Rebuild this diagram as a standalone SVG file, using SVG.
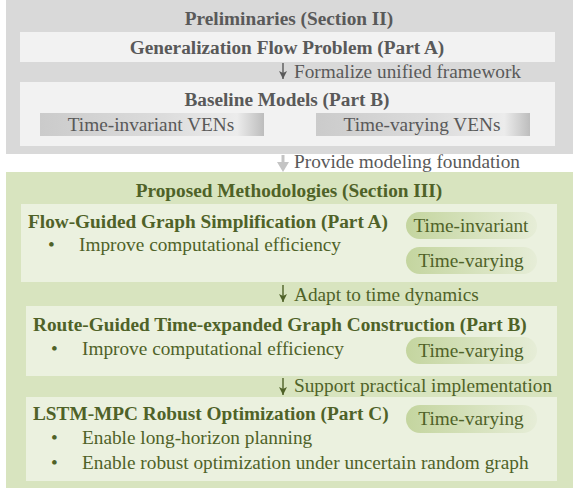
<svg xmlns="http://www.w3.org/2000/svg" width="575" height="491" viewBox="0 0 575 491">
  <defs>
    <style>
      .t { font-family: Liberation Serif, DejaVu Serif, serif; font-size: 19.3px; }
      .b { font-weight: bold; }
      .g { fill: #595959; }
      .v { fill: #4f6228; }
      .mid { text-anchor: middle; }
      .panel-g { fill: #d9d9d9; }
      .box-g { fill: #f2f2f2; }
      .panel-v { fill: #d8e4bf; }
      .box-v { fill: #ebf1df; }
      .pill { fill: url(#pillGrad); }
      .ven { fill: url(#venGrad); }
    </style>
    <linearGradient id="venGrad" x1="0" y1="0" x2="1" y2="0">
      <stop offset="0" stop-color="#cbcbcb"/>
      <stop offset="0.55" stop-color="#dcdcdc"/>
      <stop offset="0.88" stop-color="#ececec"/>
      <stop offset="1" stop-color="#bdbdbd"/>
    </linearGradient>
    <linearGradient id="pillGrad" x1="0" y1="0" x2="1" y2="0">
      <stop offset="0" stop-color="#c4d59f"/>
      <stop offset="1" stop-color="#e6edd7"/>
    </linearGradient>
  </defs>

  <g font-family="Liberation Serif, DejaVu Serif, serif">
  <!-- Preliminaries panel -->
  <g id="preliminaries">
    <rect class="panel-g" x="6" y="0" width="567" height="154"/>
    <text class="t b g mid" x="289" y="25">Preliminaries (Section II)</text>
  </g>

  <g id="generalization-flow">
    <rect class="box-g" x="20" y="32" width="535" height="30"/>
    <text class="t b g mid" x="287" y="54">Generalization Flow Problem (Part A)</text>
  </g>

  <g id="baseline-models">
    <rect class="box-g" x="20" y="82" width="535" height="64"/>
    <text class="t b g mid" x="287" y="106">Baseline Models (Part B)</text>
    <rect class="ven" x="40" y="113" width="224" height="23"/>
    <text class="t g mid" x="151" y="131">Time-invariant VENs</text>
    <rect class="ven" x="316" y="113" width="214" height="23"/>
    <text class="t g mid" x="422" y="131">Time-varying VENs</text>
  </g>

  <!-- Proposed methodologies panel -->
  <g id="methodologies">
    <rect class="panel-v" x="6" y="172" width="567" height="316"/>
    <text class="t b v mid" x="289" y="197">Proposed Methodologies (Section III)</text>
  </g>

  <g id="part-a">
    <rect class="box-v" x="21" y="204" width="536" height="78"/>
    <text class="t b v" x="28" y="228">Flow-Guided Graph Simplification (Part A)</text>
    <text class="t v" x="48" y="251">•</text>
    <text class="t v" x="79" y="251">Improve computational efficiency</text>
    <rect class="pill" x="406" y="212" width="131" height="27" rx="13.5"/>
    <text class="t v mid" x="471" y="232">Time-invariant</text>
    <rect class="pill" x="406" y="247" width="131" height="27" rx="13.5"/>
    <text class="t v mid" x="471" y="267">Time-varying</text>
  </g>

  <g id="part-b">
    <rect class="box-v" x="26" y="306" width="531" height="70"/>
    <text class="t b v" x="33" y="331">Route-Guided Time-expanded Graph Construction (Part B)</text>
    <text class="t v" x="51" y="355">•</text>
    <text class="t v" x="82" y="355">Improve computational efficiency</text>
    <rect class="pill" x="406" y="337" width="131" height="27" rx="13.5"/>
    <text class="t v mid" x="471" y="357">Time-varying</text>
  </g>

  <g id="part-c">
    <rect class="box-v" x="26" y="397" width="531" height="84"/>
    <text class="t b v" x="33" y="420">LSTM-MPC Robust Optimization (Part C)</text>
    <rect class="pill" x="406" y="405" width="131" height="28" rx="14"/>
    <text class="t v mid" x="471" y="425">Time-varying</text>
    <text class="t v" x="51" y="444">•</text>
    <text class="t v" x="82" y="444">Enable long-horizon planning</text>
    <text class="t v" x="51" y="469">•</text>
    <text class="t v" x="82" y="469">Enable robust optimization under uncertain random graph</text>
  </g>

  <!-- Connectors -->
  <g id="connectors">
    <line x1="283" y1="63" x2="283" y2="79" stroke="#595959" stroke-width="1.4"/>
    <path d="M279,71 L283,79 L287,71 L283,73 Z" fill="#595959"/>
    <text class="t g" x="294" y="78">Formalize unified framework</text>

    <line x1="283" y1="155" x2="283" y2="166" stroke="#c4c4c4" stroke-width="3"/>
    <path d="M277,162 L283,172 L289,162 Z" fill="#c4c4c4"/>
    <text class="t g" x="294" y="168">Provide modeling foundation</text>

    <line x1="283" y1="285" x2="283" y2="302" stroke="#4f6228" stroke-width="1.4"/>
    <path d="M279,294 L283,302 L287,294 L283,296 Z" fill="#4f6228"/>
    <text class="t v" x="294" y="301">Adapt to time dynamics</text>

    <line x1="283" y1="378" x2="283" y2="395" stroke="#4f6228" stroke-width="1.4"/>
    <path d="M279,387 L283,395 L287,387 L283,389 Z" fill="#4f6228"/>
    <text class="t v" x="294" y="392">Support practical implementation</text>
  </g>
  </g>
</svg>
